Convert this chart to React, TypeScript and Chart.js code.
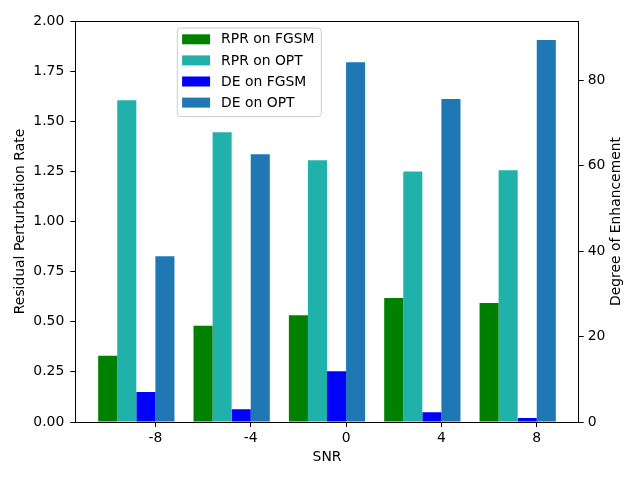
import { useEffect, useRef } from "react";
import { Chart, registerables } from "chart.js";

Chart.register(...registerables);

// SNR groups and values
const snrLabels = ["-8", "-4", "0", "4", "8"];
const rprFgsm = [0.33, 0.48, 0.533, 0.618, 0.593];
const rprOpt = [1.605, 1.445, 1.305, 1.25, 1.255];
const deFgsm = [7.0, 3.0, 11.9, 2.3, 0.95];
const deOpt = [38.8, 62.7, 84.2, 75.6, 89.4];

const FONT = "'DejaVu Sans', 'Liberation Sans', sans-serif";
const FS = 13.9;

// frame (top spine), right axis title and the inside legend
const extrasPlugin = {
  id: "extras",
  afterDraw(chart: any) {
    const { ctx, chartArea } = chart;
    const { left, right, top, bottom } = chartArea;
    ctx.save();
    ctx.strokeStyle = "#000";
    ctx.lineWidth = 1;
    ctx.beginPath();
    ctx.moveTo(left, Math.round(top) + 0.5);
    ctx.lineTo(right, Math.round(top) + 0.5);
    ctx.stroke();

    // right y axis title, reading bottom to top like matplotlib
    ctx.font = `${FS}px ${FONT}`;
    ctx.fillStyle = "#000";
    ctx.textAlign = "center";
    ctx.textBaseline = "middle";
    ctx.translate(616, (top + bottom) / 2);
    ctx.rotate(-Math.PI / 2);
    ctx.fillText("Degree of Enhancement", 0, 0);
    ctx.restore();

    // legend box
    const lx = left + 101.5;
    const ly = top + 6.6;
    const lw = 144;
    const lh = 88.4;
    ctx.save();
    ctx.beginPath();
    ctx.roundRect(lx + 0.5, ly + 0.5, lw, lh, 3);
    ctx.fillStyle = "rgba(255,255,255,0.8)";
    ctx.fill();
    ctx.strokeStyle = "#cccccc";
    ctx.lineWidth = 1;
    ctx.stroke();
    ctx.font = `${FS}px ${FONT}`;
    ctx.textAlign = "left";
    ctx.textBaseline = "middle";
    chart.data.datasets.forEach((ds: any, i: number) => {
      const cy = ly + 11.7 + i * 21.1;
      ctx.fillStyle = ds.backgroundColor;
      ctx.fillRect(lx + 5.3, cy - 5, 28, 10);
      ctx.fillStyle = "#000";
      ctx.fillText(ds.label, lx + 44.3, cy + 0.5);
    });
    ctx.restore();
  },
};

function App() {
  const canvasRef = useRef<HTMLCanvasElement | null>(null);

  useEffect(() => {
    if (!canvasRef.current) return;
    Chart.defaults.font.family = FONT;
    Chart.defaults.font.size = FS;
    Chart.defaults.color = "#000";

    const pts = (vals: number[]) => vals.map((v, i) => ({ x: i - 0.2, y: v }));
    const axisGrid = {
      display: true,
      drawOnChartArea: false,
      drawTicks: true,
      tickLength: 5,
      color: "#000",
      offset: false,
    };
    const axisBorder = { display: true, color: "#000", width: 1 };

    const chart = new Chart(canvasRef.current, {
      type: "bar",
      data: {
        datasets: [
          { label: "RPR on FGSM", data: pts(rprFgsm), backgroundColor: "#008000", yAxisID: "y" },
          { label: "RPR on OPT", data: pts(rprOpt), backgroundColor: "#20b2aa", yAxisID: "y" },
          { label: "DE on FGSM", data: pts(deFgsm), backgroundColor: "#0000ff", yAxisID: "y1" },
          { label: "DE on OPT", data: pts(deOpt), backgroundColor: "#1f77b4", yAxisID: "y1" },
        ],
      },
      options: {
        animation: false,
        responsive: false,
        layout: { padding: { top: 21, left: 0, right: 0, bottom: 0 } },
        datasets: { bar: { categoryPercentage: 0.8, barPercentage: 1.0, borderWidth: 0 } },
        plugins: { legend: { display: false }, tooltip: { enabled: false } },
        scales: {
          x: {
            type: "linear",
            min: -0.84,
            max: 4.44,
            offset: false,
            z: 1,
            grid: axisGrid,
            border: axisBorder,
            afterBuildTicks: (scale: any) => {
              scale.ticks = snrLabels.map((_, i) => ({ value: i }));
            },
            afterFit: (scale: any) => {
              scale.height = 58;
            },
            ticks: {
              autoSkip: false,
              maxRotation: 0,
              padding: 3,
              callback: (_v: any, i: number) => snrLabels[i],
            },
            title: { display: true, text: "SNR", padding: { top: 0, bottom: 14.7 } },
          },
          y: {
            type: "linear",
            position: "left",
            min: 0,
            max: 2,
            z: 1,
            grid: axisGrid,
            border: axisBorder,
            afterFit: (scale: any) => {
              scale.width = 75.3;
            },
            ticks: { stepSize: 0.25, padding: 6, callback: (v: any) => Number(v).toFixed(2) },
            title: { display: true, text: "Residual Perturbation Rate", padding: { top: 12, bottom: 0 } },
          },
          y1: {
            type: "linear",
            position: "right",
            min: 0,
            max: Math.max(...deOpt) * 1.05,
            z: 1,
            grid: axisGrid,
            border: axisBorder,
            afterFit: (scale: any) => {
              scale.width = 61.3;
            },
            ticks: { stepSize: 20, includeBounds: false, padding: 4 },
          },
        },
      },
      plugins: [extrasPlugin],
    } as any);

    return () => {
      chart.destroy();
    };
  }, []);

  return (
    <div style={{ position: "absolute", left: 0, top: 0, width: 640, height: 480, background: "#fff" }}>
      <canvas ref={canvasRef} width={640} height={480} />
    </div>
  );
}

export default App;
